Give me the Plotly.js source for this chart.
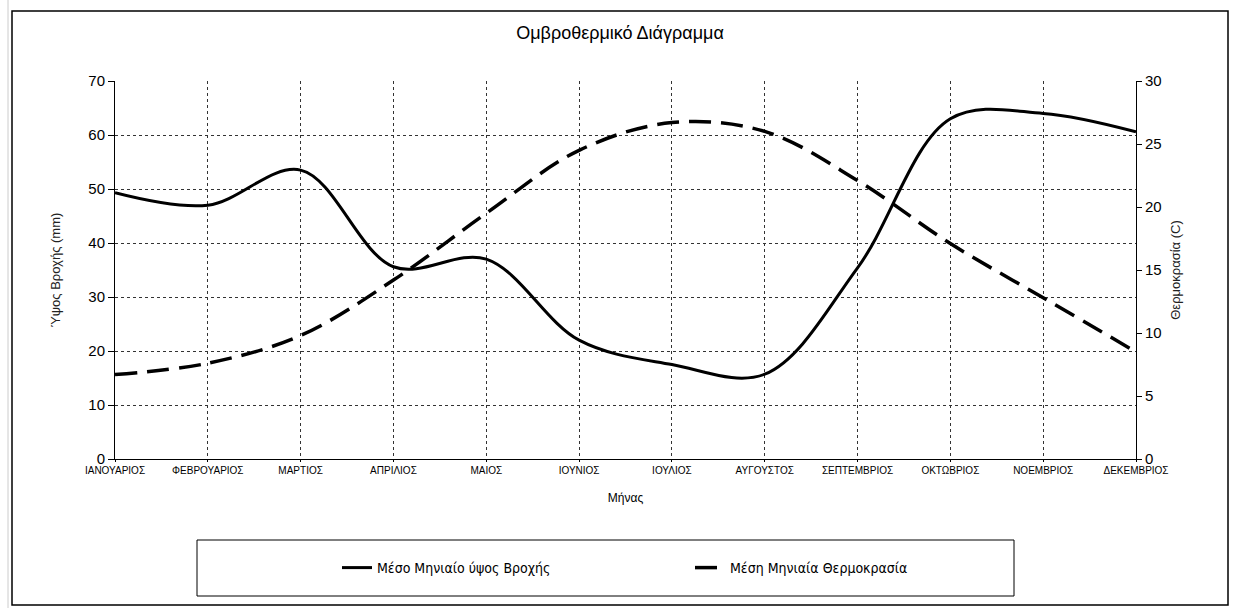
<!DOCTYPE html>
<html>
<head>
<meta charset="utf-8">
<script src="https://cdn.plot.ly/plotly-3.0.1.min.js"></script>
<style>html,body{margin:0;padding:0;background:#fff;}#chart{width:1233px;height:608px;}</style>
</head>
<body>
<div id="chart"></div>
<script>
const months = ["ΙΑΝΟΥΑΡΙΟΣ","ΦΕΒΡΟΥΑΡΙΟΣ","ΜΑΡΤΙΟΣ","ΑΠΡΙΛΙΟΣ","ΜΑΙΟΣ","ΙΟΥΝΙΟΣ","ΙΟΥΛΙΟΣ","ΑΥΓΟΥΣΤΟΣ","ΣΕΠΤΕΜΒΡΙΟΣ","ΟΚΤΩΒΡΙΟΣ","ΝΟΕΜΒΡΙΟΣ","ΔΕΚΕΜΒΡΙΟΣ"];
const rainfall = [49.3, 47.0, 53.5, 35.6, 37.0, 22.0, 17.5, 15.7, 35.4, 63.0, 64.0, 60.6];
const temperature = [6.7, 7.6, 9.8, 14.2, 19.5, 24.5, 26.7, 26.0, 22.1, 17.1, 12.8, 8.5];
const rainName = "Μέσο Μηνιαίο ύψος Βροχής";
const tempName = "Μέση Μηνιαία Θερμοκρασία";

const font = "Liberation Sans, Arial, sans-serif";
const traces = [
  {x: months, y: rainfall, name: rainName, type: "scatter", mode: "lines",
   line: {color: "#000", width: 3, shape: "spline", smoothing: 1}},
  {x: months, y: temperature, name: tempName, type: "scatter", mode: "lines", yaxis: "y2",
   line: {color: "#000", width: 3.5, shape: "spline", smoothing: 1, dash: "22px,10px"}}
];

const W = 1021, H = 378, L = 115, T = 81;
const px = v => (v - L) / W;
const py = v => (T + H - v) / H;

const layout = {
  width: 1233, height: 608,
  margin: {l: 115, r: 97, t: 81, b: 149},
  paper_bgcolor: "#fff", plot_bgcolor: "#fff",
  font: {family: font, color: "#000"},
  title: {text: "Ομβροθερμικό Διάγραμμα", font: {size: 18, color: "#000", family: font},
          x: px(620), xref: "paper", xanchor: "center", y: 1 - 33/608, yanchor: "middle", yref: "container"},
  xaxis: {type: "category", range: [0, 11], showline: true, linecolor: "#000", linewidth: 1,
          showgrid: true, gridcolor: "#333", griddash: "dot", gridwidth: 1,
          ticks: "outside", ticklen: 2, tickcolor: "#000",
          tickfont: {size: 10, color: "#000", family: font},
          title: {text: "Μήνας", font: {size: 12, color: "#000", family: font}, standoff: 18},
          automargin: true, zeroline: false},
  yaxis: {range: [0, 70], dtick: 10, showline: true, linecolor: "#000", linewidth: 1,
          showgrid: true, gridcolor: "#333", griddash: "dot", gridwidth: 1,
          ticks: "outside", ticklen: 6, tickcolor: "#000",
          tickfont: {size: 15, color: "#000", family: font},
          title: {text: "Ύψος Βροχής (mm)", font: {size: 13, color: "#222", family: font}, standoff: 24},
          automargin: true, zeroline: false},
  yaxis2: {range: [0, 30], dtick: 5, overlaying: "y", side: "right", showline: true, linecolor: "#000", linewidth: 1,
           showgrid: false, ticks: "outside", ticklen: 5, tickcolor: "#000",
           tickfont: {size: 15, color: "#000", family: font},
           title: {text: "Θερμοκρασία (C)", font: {size: 13, color: "#222", family: font}, standoff: 10},
           automargin: true, zeroline: false},
  showlegend: true,
  legend: {orientation: "h", x: px(337), xanchor: "left", y: py(568), yanchor: "middle",
           entrywidth: 308, entrywidthmode: "pixels",
           font: {size: 14, color: "#000", family: "Liberation Sans Narrow, DejaVu Sans Condensed, sans-serif"},
           bgcolor: "rgba(0,0,0,0)", borderwidth: 0},
  shapes: [
    {type: "rect", xref: "paper", yref: "paper", x0: px(12), x1: px(1228), y0: py(605), y1: py(11),
     line: {color: "#000", width: 1.5}, layer: "below"},
    {type: "rect", xref: "paper", yref: "paper", x0: px(197), x1: px(1014), y0: py(596), y1: py(540),
     line: {color: "#000", width: 1}, layer: "below"},
    {type: "line", xref: "paper", yref: "paper", x0: px(8), x1: px(8), y0: py(608), y1: py(0),
     line: {color: "#ccc", width: 1}, layer: "below"}
  ]
};

Plotly.newPlot("chart", traces, layout, {displayModeBar: false, staticPlot: true});
</script>
</body>
</html>
